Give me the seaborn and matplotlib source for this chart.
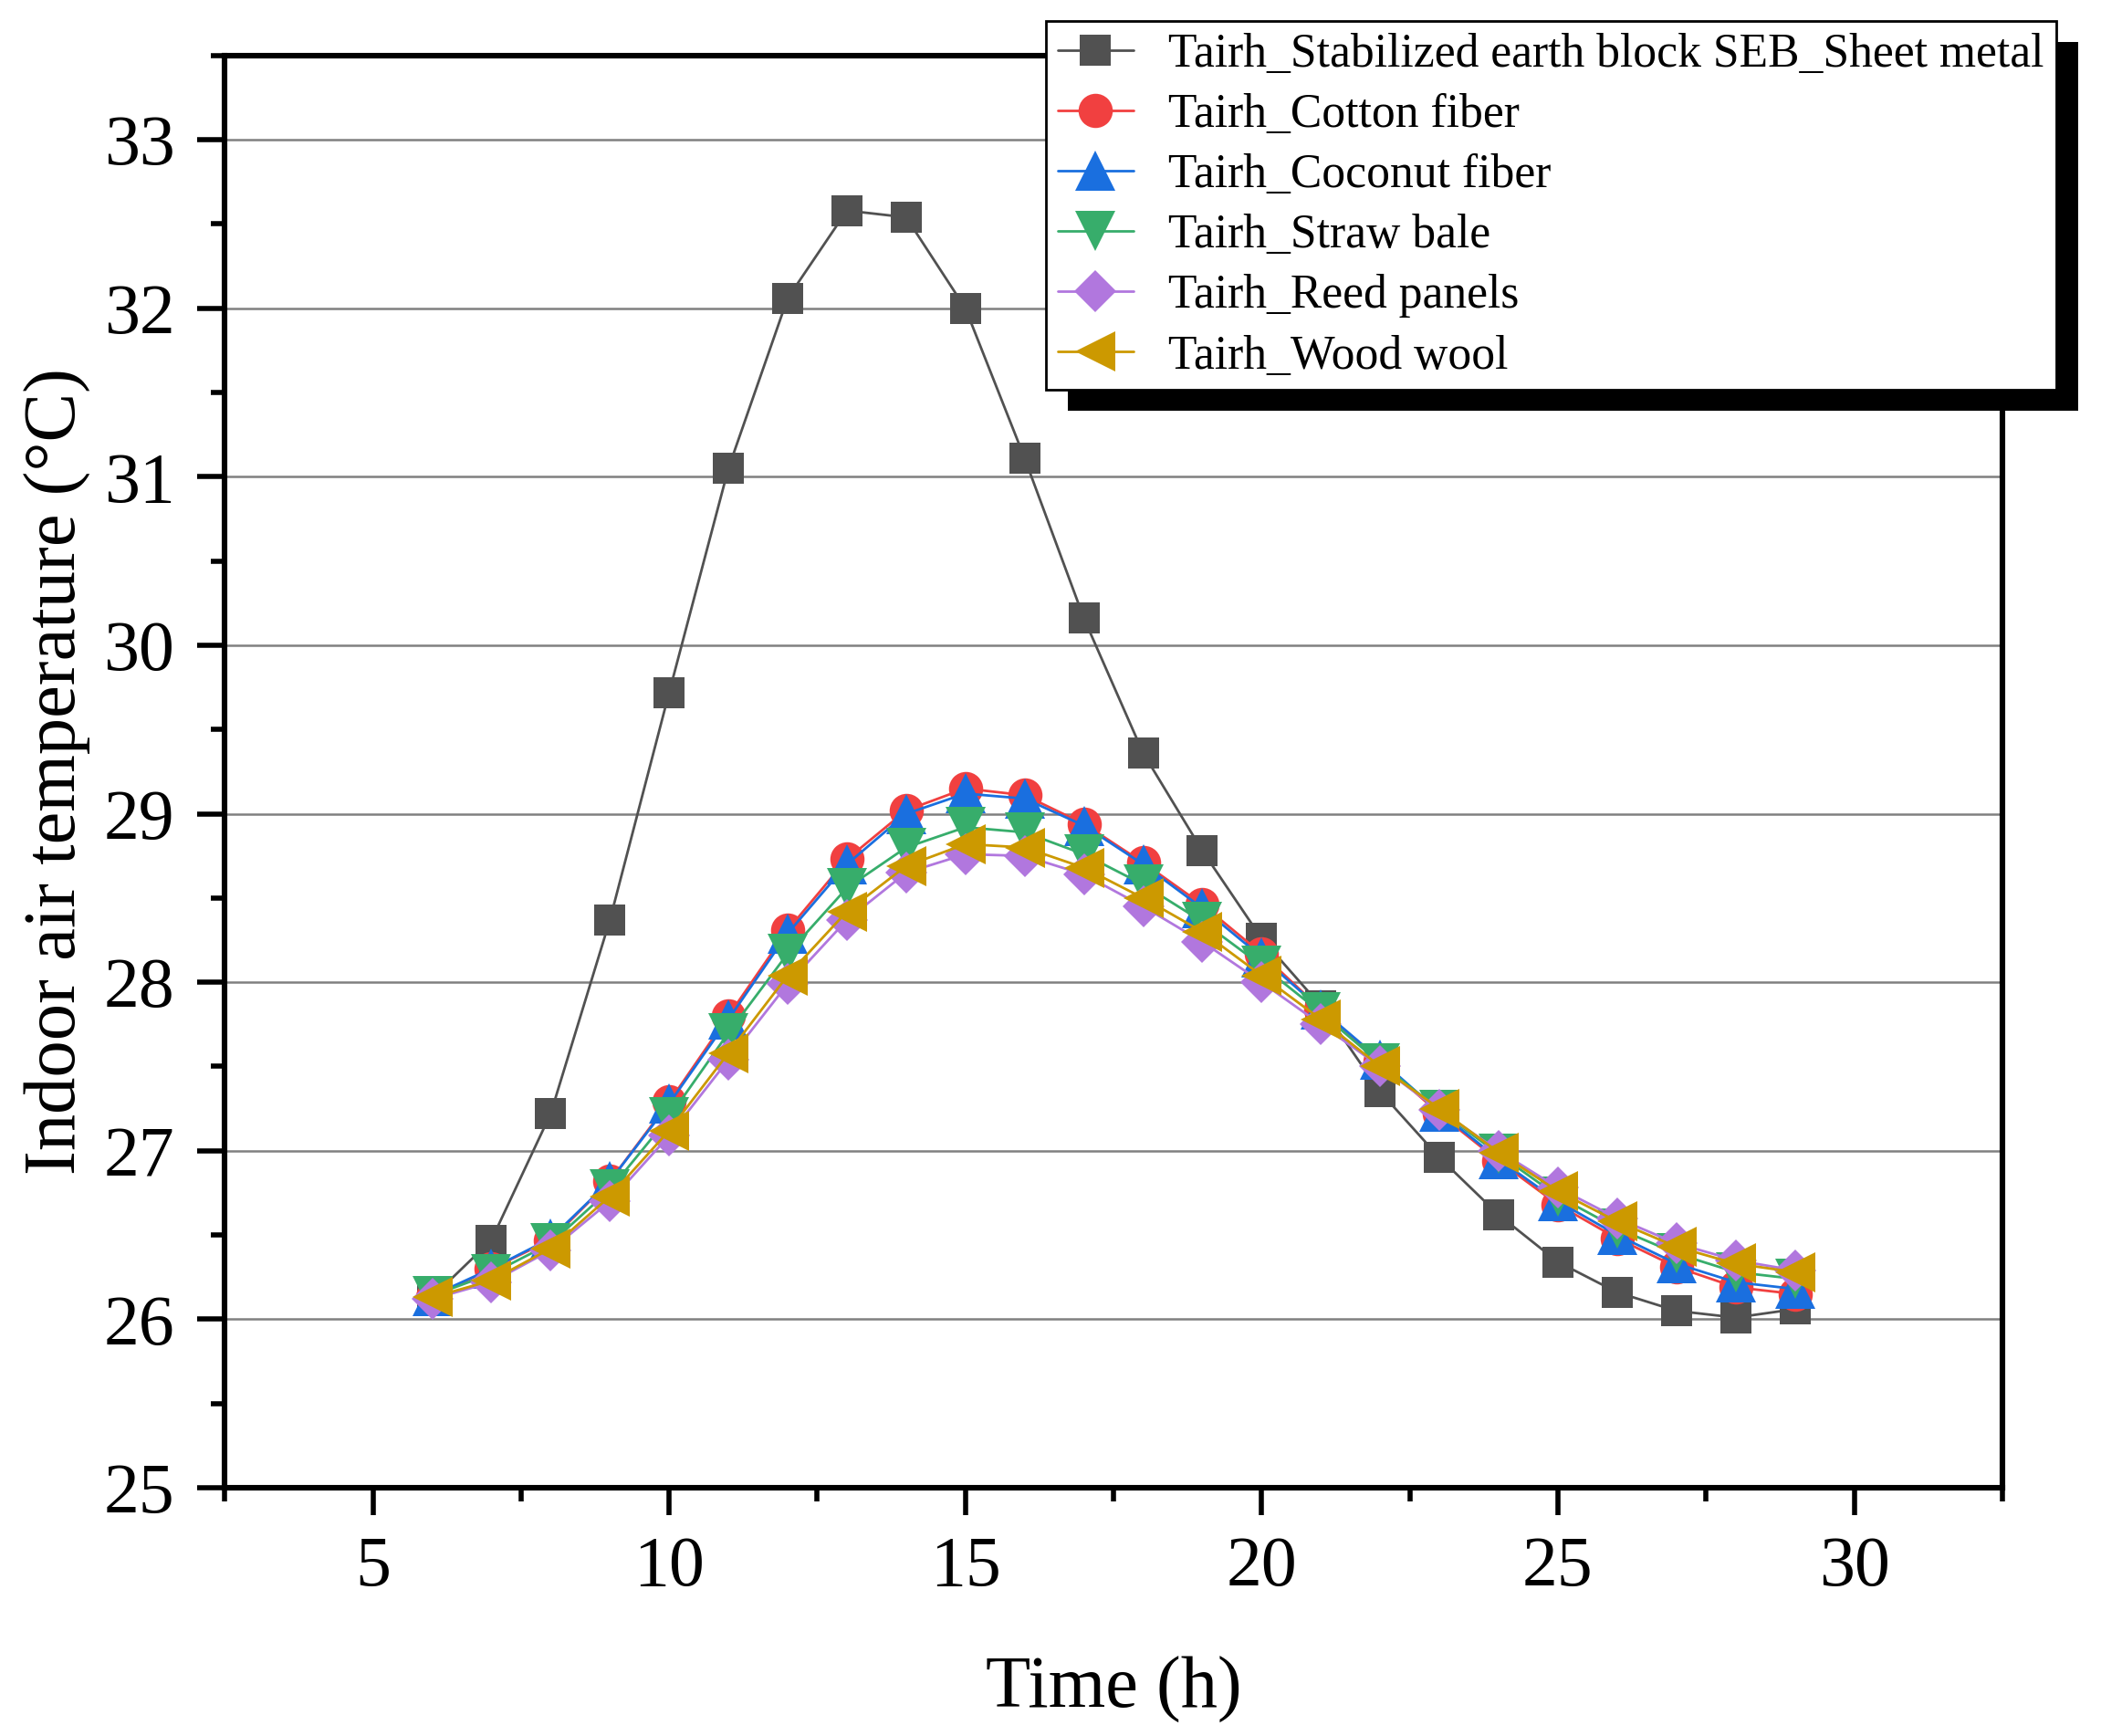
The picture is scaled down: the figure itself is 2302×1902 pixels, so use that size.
import numpy as np
import pandas as pd
import matplotlib
matplotlib.use("Agg")
import matplotlib.pyplot as plt
import seaborn as sns
from matplotlib.patches import Rectangle
from matplotlib.ticker import MultipleLocator

# Data
hours = list(range(6, 30))
seb_sheet_metal = [26.13, 26.47, 27.22, 28.37, 29.72, 31.05, 32.06, 32.58, 32.54, 32.00,
                   31.11, 30.16, 29.36, 28.78, 28.26, 27.86, 27.35, 26.96, 26.62, 26.34,
                   26.16, 26.05, 26.01, 26.06]
cotton_fiber = [26.13, 26.30, 26.47, 26.82, 27.29, 27.80, 28.31, 28.73, 29.02, 29.15,
                29.11, 28.94, 28.71, 28.46, 28.17, 27.84, 27.53, 27.22, 26.94, 26.68,
                26.48, 26.31, 26.19, 26.15]
coconut_fiber = [26.14, 26.30, 26.48, 26.82, 27.28, 27.78, 28.29, 28.70, 29.00, 29.12,
                 29.09, 28.93, 28.70, 28.44, 28.15, 27.84, 27.54, 27.23, 26.95, 26.70,
                 26.50, 26.33, 26.22, 26.18]
straw_bale = [26.14, 26.27, 26.45, 26.77, 27.20, 27.70, 28.17, 28.56, 28.80, 28.92,
              28.89, 28.76, 28.58, 28.36, 28.10, 27.82, 27.52, 27.24, 26.98, 26.73,
              26.54, 26.39, 26.28, 26.24]
reed_panels = [26.12, 26.22, 26.41, 26.70, 27.09, 27.54, 27.99, 28.37, 28.65, 28.76,
               28.75, 28.64, 28.45, 28.24, 28.00, 27.75, 27.50, 27.24, 27.00, 26.78,
               26.60, 26.45, 26.35, 26.29]
wood_wool = [26.13, 26.23, 26.42, 26.73, 27.12, 27.58, 28.04, 28.42, 28.69, 28.82,
             28.80, 28.68, 28.50, 28.30, 28.04, 27.78, 27.50, 27.25, 26.99, 26.76,
             26.58, 26.43, 26.33, 26.28]

labels = ["Tairh_Stabilized earth block SEB_Sheet metal", "Tairh_Cotton fiber",
          "Tairh_Coconut fiber", "Tairh_Straw bale", "Tairh_Reed panels", "Tairh_Wood wool"]
series = [seb_sheet_metal, cotton_fiber, coconut_fiber, straw_bale, reed_panels, wood_wool]
colors = ["#515151", "#F14040", "#1A6FDF", "#37AD6B", "#B177DE", "#CC9900"]
markers = ["s", "o", "^", "v", "D", "<"]
msizes = [12, 13.5, 15.5, 15.5, 11.5, 16]

sns.set_style("ticks")
plt.rcParams['font.family'] = ['Liberation Serif', 'DejaVu Serif']
plt.rcParams['text.color'] = 'black'
plt.rcParams['axes.labelcolor'] = 'black'
plt.rcParams['xtick.color'] = 'black'
plt.rcParams['ytick.color'] = 'black'

fig = plt.figure(figsize=(11.51, 9.51), dpi=200)
ax = fig.add_axes([0.107, 0.143, 0.846, 0.825])

for vals, lab, col, mk, ms in zip(series, labels, colors, markers, msizes):
    df = pd.DataFrame({'Time': hours, 'Temp': vals})
    sns.lineplot(data=df, x='Time', y='Temp', color=col, marker=mk, markersize=ms,
                 markeredgecolor=col, markeredgewidth=0, linewidth=1.0,
                 label=lab, ax=ax, zorder=3)

ax.set_xlim(2.5, 32.5)
ax.set_ylim(25, 33.5)
ax.xaxis.set_major_locator(MultipleLocator(5))
ax.xaxis.set_minor_locator(MultipleLocator(2.5))
ax.yaxis.set_major_locator(MultipleLocator(1))
ax.yaxis.set_minor_locator(MultipleLocator(0.5))
ax.grid(axis='y', which='major', color='#808080', linewidth=0.9)
ax.set_axisbelow(True)

for sp in ax.spines.values():
    sp.set_linewidth(2.2)
    sp.set_color('black')
ax.tick_params(axis='both', which='major', direction='out', length=10.8, width=2.0,
               labelsize=28, color='black', labelcolor='black')
ax.tick_params(axis='both', which='minor', direction='out', length=5.4, width=2.0,
               color='black')
ax.tick_params(axis='x', which='major', pad=8)
ax.tick_params(axis='y', which='major', pad=9)

ax.set_xlabel("Time (h)", fontsize=29, labelpad=22, color='black')
ax.set_ylabel("Indoor air temperature (°C)", fontsize=29, labelpad=5, color='black')

leg = ax.legend(loc='upper left', bbox_to_anchor=(0.462, 1.024), fontsize=18.6,
                frameon=True, fancybox=False, framealpha=1, edgecolor='black',
                borderpad=0.25, handlelength=1.6, handletextpad=0.75, labelspacing=0.35,
                borderaxespad=0)
leg.get_frame().set_linewidth(1.0)
leg.set_zorder(6)
for t in leg.get_texts():
    t.set_color('black')

# solid black drop shadow behind the legend box
fig.canvas.draw()
bb = leg.get_window_extent().transformed(fig.transFigure.inverted())
dx, dy = 24 / 2302, 23 / 1902
ax.add_patch(Rectangle((bb.x0 + dx, bb.y0 - dy), bb.width, bb.height, transform=fig.transFigure,
                       facecolor='black', edgecolor='none', clip_on=False, zorder=5.5))

fig.savefig("out.png", dpi=200)
